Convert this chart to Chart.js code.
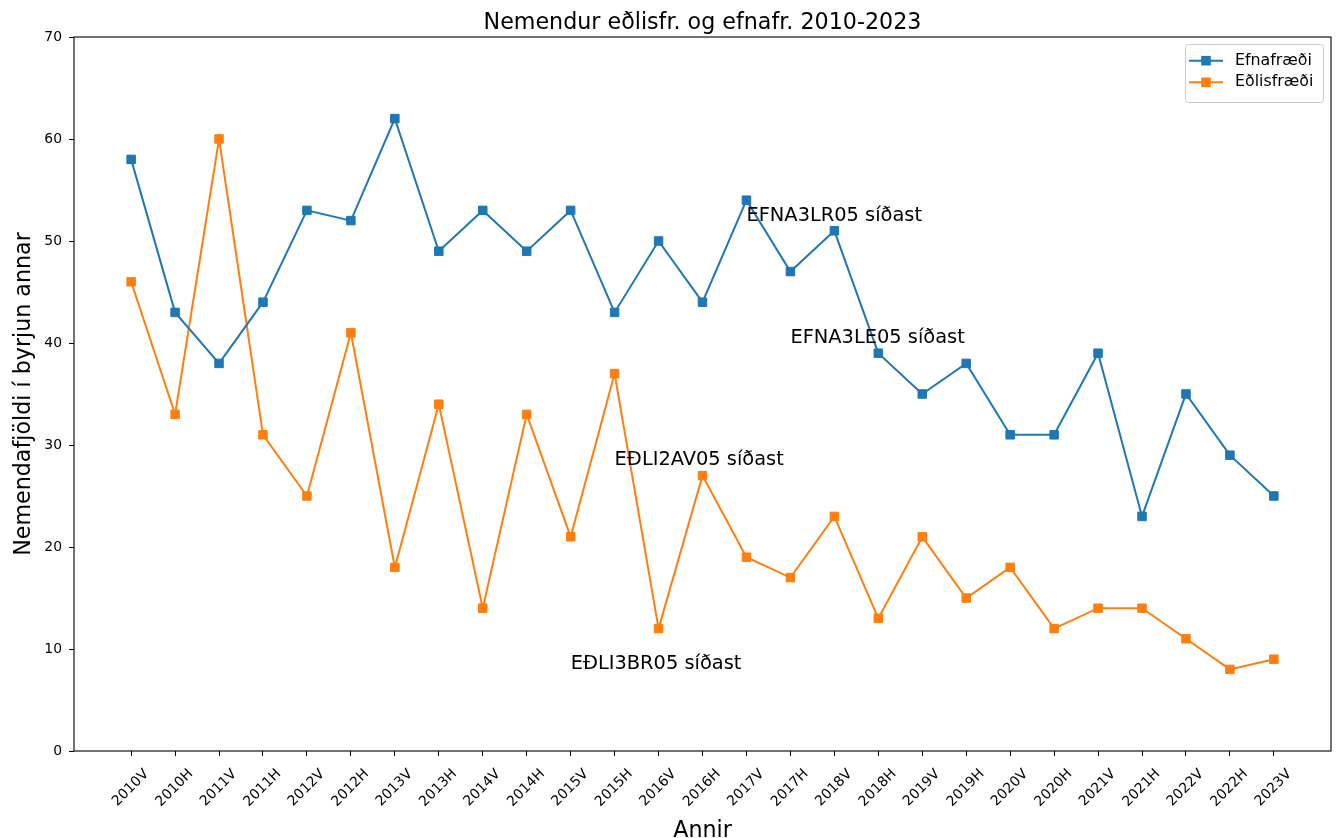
<!DOCTYPE html>
<html>
<head>
<meta charset="utf-8">
<script src="https://cdn.jsdelivr.net/npm/chart.js@4.4.0/dist/chart.umd.min.js"></script>
<style>
  html, body { margin: 0; padding: 0; background: #fff; }
  canvas { display: block; }
</style>
</head>
<body>
<canvas id="grafNemendur" width="1338" height="838"></canvas>
<script>
// Annir (vor / haust)
const annir = ['2010V','2010H','2011V','2011H','2012V','2012H','2013V','2013H','2014V','2014H',
  '2015V','2015H','2016V','2016H','2017V','2017H','2018V','2018H','2019V','2019H',
  '2020V','2020H','2021V','2021H','2022V','2022H','2023V'];

const efnafraedi = [58, 43, 38, 44, 53, 52, 62, 49, 53, 49, 53, 43, 50, 44, 54, 47, 51, 39, 35, 38, 31, 31, 39, 23, 35, 29, 25];
const edlisfraedi = [46, 33, 60, 31, 25, 41, 18, 34, 14, 33, 21, 37, 12, 27, 19, 17, 23, 13, 21, 15, 18, 12, 14, 14, 11, 8, 9];

const yTicks = [0, 10, 20, 30, 40, 50, 60, 70];

// Athugasemdir i grafinu (stadsetning i gognum)
const athTexti = ['EFNA3LR05 síðast', 'EFNA3LE05 síðast', 'EÐLI2AV05 síðast', 'EÐLI3BR05 síðast'];
const athX = [14, 15, 11, 10];
const athY = [52, 40, 28, 8];

const titill = 'Nemendur eðlisfr. og efnafr. 2010-2023';
const xTitill = 'Annir';
const yTitill = 'Nemendafjöldi í byrjun annar';

const BLAR = '#1f77b4';
const APPELSINA = '#ff7f0e';
const LETUR = '"DejaVu Sans", sans-serif';

const textarPlugin = {
  id: 'textar',
  afterDraw(chart) {
    const ctx = chart.ctx;
    const area = chart.chartArea;
    const xs = chart.scales.x;
    const ys = chart.scales.y;
    ctx.save();

    // rammi allan hringinn
    ctx.strokeStyle = '#000';
    ctx.lineWidth = 1.1;
    ctx.strokeRect(area.left, area.top, area.right - area.left, area.bottom - area.top);

    ctx.fillStyle = '#000';
    // titill
    ctx.font = '22.2px ' + LETUR;
    ctx.textAlign = 'center';
    ctx.textBaseline = 'alphabetic';
    ctx.fillText(titill, (area.left + area.right) / 2, 28.5);

    // x-ás titill
    ctx.font = '22.2px ' + LETUR;
    ctx.fillText(xTitill, (area.left + area.right) / 2, 837);

    // y-ás titill
    ctx.save();
    ctx.translate(30, (area.top + area.bottom) / 2);
    ctx.rotate(-Math.PI / 2);
    ctx.fillText(yTitill, 0, 0);
    ctx.restore();

    // merkingar á x-ás, hallandi
    ctx.font = '14px ' + LETUR;
    ctx.textAlign = 'center';
    ctx.textBaseline = 'middle';
    annir.forEach((lbl, i) => {
      const px = xs.getPixelForValue(i);
      ctx.save();
      ctx.translate(px - 0.5, 788);
      ctx.rotate(-Math.PI / 4);
      ctx.fillText(lbl, 0, 0);
      ctx.restore();
    });

    // athugasemdir
    ctx.font = '19.4px ' + LETUR;
    ctx.textAlign = 'left';
    ctx.textBaseline = 'alphabetic';
    ctx.fillStyle = '#000';
    athTexti.forEach((t, i) => {
      ctx.fillText(t, xs.getPixelForValue(athX[i]), ys.getPixelForValue(athY[i]));
    });

    // skýringar (legend)
    const lx = 1185.5, ly = 44.5, lw = 138, lh = 58;
    ctx.beginPath();
    ctx.roundRect(lx, ly, lw, lh, 3);
    ctx.fillStyle = 'rgba(255,255,255,0.8)';
    ctx.fill();
    ctx.strokeStyle = '#cccccc';
    ctx.lineWidth = 1;
    ctx.stroke();

    const rows = [60.7, 82.3];
    chart.data.datasets.forEach((ds, i) => {
      const y = rows[i];
      ctx.strokeStyle = ds.borderColor;
      ctx.lineWidth = 2;
      ctx.beginPath();
      ctx.moveTo(1189, y);
      ctx.lineTo(1223, y);
      ctx.stroke();
      ctx.fillStyle = ds.borderColor;
      ctx.fillRect(1206 - 4.8, y - 4.8, 9.6, 9.6);
      ctx.fillStyle = '#000';
      ctx.font = '15.8px ' + LETUR;
      ctx.textAlign = 'left';
      ctx.textBaseline = 'middle';
      ctx.fillText(ds.label, 1235, y);
    });

    ctx.restore();
  }
};

new Chart(document.getElementById('grafNemendur'), {
  type: 'line',
  data: {
    datasets: [
      {
        label: 'Efnafræði',
        data: efnafraedi.map((v, i) => ({ x: i, y: v })),
        borderColor: BLAR,
        backgroundColor: BLAR,
        borderWidth: 2,
        pointStyle: 'rect',
        pointRadius: 6,
        pointBorderWidth: 1,
        tension: 0,
        fill: false
      },
      {
        label: 'Eðlisfræði',
        data: edlisfraedi.map((v, i) => ({ x: i, y: v })),
        borderColor: APPELSINA,
        backgroundColor: APPELSINA,
        borderWidth: 2,
        pointStyle: 'rect',
        pointRadius: 6,
        pointBorderWidth: 1,
        tension: 0,
        fill: false
      }
    ]
  },
  options: {
    responsive: false,
    devicePixelRatio: 1,
    animation: false,
    layout: { padding: { top: 37, right: 7, bottom: 0, left: 0 } },
    plugins: {
      legend: { display: false },
      title: { display: false },
      tooltip: { enabled: false }
    },
    scales: {
      x: {
        type: 'linear',
        min: -1.3,
        max: 27.3,
        afterBuildTicks: (s) => { s.ticks = annir.map((_, i) => ({ value: i })); },
        afterFit: (s) => { s.height = 87; },
        ticks: { display: false },
        grid: { drawOnChartArea: false, drawTicks: true, tickLength: 5, color: '#000', lineWidth: 1 },
        border: { display: false }
      },
      y: {
        min: 0,
        max: 70,
        afterBuildTicks: (s) => { s.ticks = yTicks.map(v => ({ value: v })); },
        afterFit: (s) => { s.width = 74; },
        ticks: { color: '#000', padding: 7, font: { family: 'DejaVu Sans', size: 13.9 } },
        grid: { drawOnChartArea: false, drawTicks: true, tickLength: 5, color: '#000', lineWidth: 1 },
        border: { display: false }
      }
    }
  },
  plugins: [textarPlugin]
});
</script>
</body>
</html>
